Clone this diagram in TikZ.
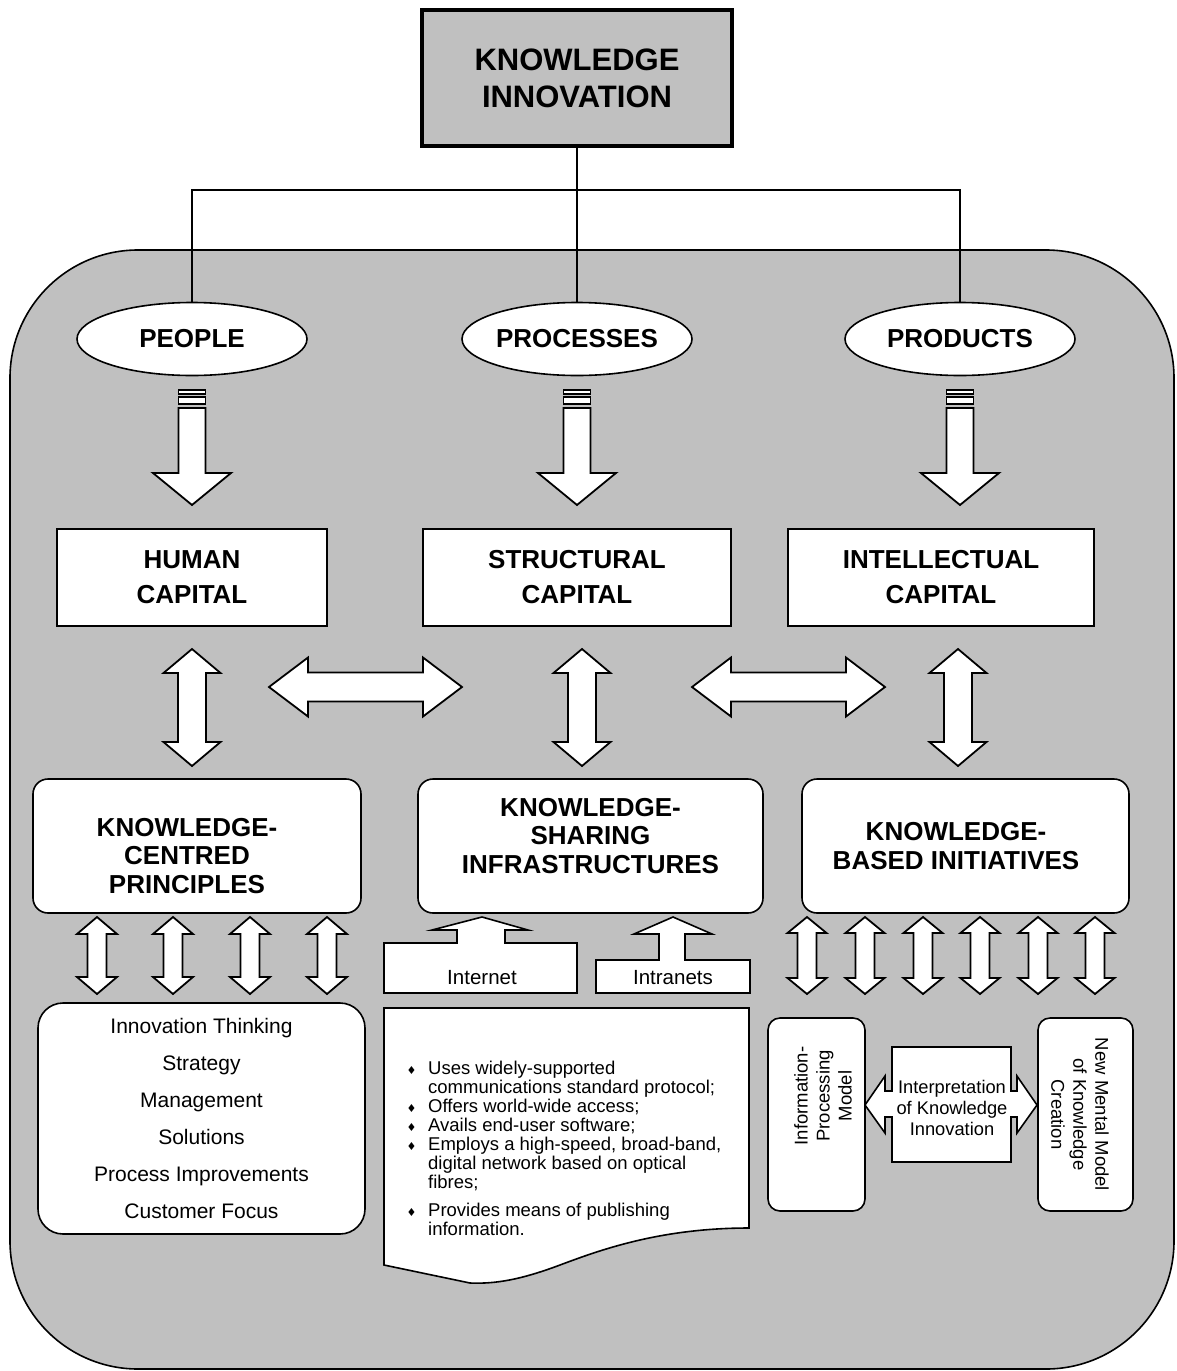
\documentclass[tikz,border=0pt]{standalone}
\usepackage{fontspec}
\setmainfont{Liberation Sans}
\newfontfamily\symfont{DejaVu Sans}
\usetikzlibrary{calc,positioning,shapes.geometric}
\definecolor{framegray}{HTML}{C0C0C0}
\tikzset{
  frame/.style={
    draw,
    fill=framegray,
    line width=1.6pt,
    rounded corners=128pt,
    minimum width=1164pt,
    minimum height=1119pt
  },
  topbox/.style={
    draw,
    fill=framegray,
    line width=3.5pt,
    minimum width=310pt,
    minimum height=136pt,
    align=center,
    font=\fontsize{31}{37}\selectfont\bfseries
  },
  pillar/.style={
    draw,
    ellipse,
    fill=white,
    line width=1.6pt,
    minimum width=230pt,
    minimum height=73pt,
    inner sep=0pt,
    font=\fontsize{26}{30}\selectfont\bfseries
  },
  capbox/.style={
    draw,
    fill=white,
    line width=1.6pt,
    minimum height=97pt,
    align=center,
    font=\fontsize{26}{35}\selectfont\bfseries
  },
  hubbox/.style={
    draw,
    fill=white,
    line width=1.6pt,
    rounded corners=15pt,
    minimum height=134pt
  },
  hubtitle/.style={align=center, inner sep=0pt, font=\fontsize{26}{28.5}\selectfont\bfseries},
  listbox/.style={
    draw,
    fill=white,
    line width=1.6pt,
    rounded corners=25pt,
    minimum width=327pt,
    minimum height=231pt,
    align=center,
    font=\fontsize{21}{37}\selectfont
  },
  modelbox/.style={draw, fill=white, line width=1.6pt, rounded corners=12pt},
  modeltext/.style={align=center, inner sep=0pt, font=\fontsize{18.5}{22}\selectfont},
  source/.style={draw, fill=white, line width=1.6pt},
  sourcetext/.style={inner sep=0pt, font=\fontsize{20.5}{24}\selectfont},
  bullets/.style={align=left, inner sep=0pt, font=\fontsize{18.5}{19}\selectfont},
  blockarrow/.style={draw, fill=white, line width=1.8pt},
  link/.style={line width=1.5pt}
}
% block double arrows: vertical (x, top, bottom, half head, half shaft, head length)
\newcommand{\vtwin}[6]{\draw[blockarrow] (#1,#2) -- (#1+#4,#2+#6) -- (#1+#5,#2+#6) -- (#1+#5,#3-#6) -- (#1+#4,#3-#6) -- (#1,#3) -- (#1-#4,#3-#6) -- (#1-#5,#3-#6) -- (#1-#5,#2+#6) -- (#1-#4,#2+#6) -- cycle;}
% horizontal (y, left, right, half head, half shaft, head length)
\newcommand{\htwin}[6]{\draw[blockarrow] (#2,#1) -- (#2+#6,#1-#4) -- (#2+#6,#1-#5) -- (#3-#6,#1-#5) -- (#3-#6,#1-#4) -- (#3,#1) -- (#3-#6,#1+#4) -- (#3-#6,#1+#5) -- (#2+#6,#1+#5) -- (#2+#6,#1+#4) -- cycle;}
\newcommand{\bul}{\makebox[21.5pt][l]{{\symfont\fontsize{11}{11}\selectfont ♦}}}

\begin{document}
\begin{tikzpicture}[x=1pt, y=-1pt]
  \useasboundingbox (0,0) rectangle (1176,1371);
  \node[frame] (frame) at (592,809.5) {};

  % top of the tree
  \node[topbox] (ki) at (577,78) {KNOWLEDGE\\INNOVATION};
  \node[pillar] (people) at (192,339) {PEOPLE};
  \node[pillar] (processes) at (577,339) {PROCESSES};
  \node[pillar] (products) at (960,339) {PRODUCTS};
  \coordinate (bus) at (577,190);
  \draw[link] (ki.south) -- (processes.north);
  \draw[link] (people.north) |- (bus) -| (products.north);

  \foreach \x in {192,577,960} {
    \draw[blockarrow] (\x-13.5,390) rectangle (\x+13.5,394);
    \draw[blockarrow] (\x-13.5,397) rectangle (\x+13.5,404);
    \draw[blockarrow] (\x-13.5,408) -- (\x+13.5,408) -- (\x+13.5,473) -- (\x+39,473) -- (\x,505) -- (\x-39,473) -- (\x-13.5,473) -- cycle;
  }

  % capitals
  \node[capbox, minimum width=270pt] (human) at (192,577.5) {HUMAN\\CAPITAL};
  \node[capbox, minimum width=308pt] (structural) at (577,577.5) {STRUCTURAL\\CAPITAL};
  \node[capbox, minimum width=306pt] (intellectual) at (941,577.5) {INTELLECTUAL\\CAPITAL};

  \vtwin{192}{649}{766}{28.5}{14}{24}
  \vtwin{582}{649}{766}{28.5}{14}{24}
  \vtwin{958}{649}{766}{28.5}{14}{24}
  \htwin{687}{269}{462}{29.5}{14.5}{39}
  \htwin{687}{692}{885}{29.5}{14.5}{39}

  % knowledge hubs
  \node[hubbox, minimum width=328pt] (kcp) at (197,846) {};
  \node[hubtitle] (kcplabel) at ([xshift=-10pt,yshift=-10pt]kcp.center) {KNOWLEDGE-\\CENTRED\\PRINCIPLES};
  \node[hubbox, minimum width=345pt] (ksi) at (590.5,846) {};
  \node[hubtitle] (ksilabel) at ([yshift=10pt]ksi.center) {KNOWLEDGE-\\SHARING\\INFRASTRUCTURES};
  \node[hubbox, minimum width=327pt] (kbi) at (965.5,846) {};
  \node[hubtitle] (kbilabel) at ([xshift=-9.5pt]kbi.center) {KNOWLEDGE-\\BASED INITIATIVES};

  \foreach \x in {97,173,250,327} {
    \vtwin{\x}{917}{994}{20}{9.5}{17}
  }
  \foreach \x in {807,865,923,980,1038,1095} {
    \vtwin{\x}{917}{994}{19.5}{9.5}{16}
  }

  % principles
  \node[listbox] (practices) at (201.5,1118.5) {Innovation Thinking\\Strategy\\Management\\Solutions\\Process Improvements\\Customer Focus};

  % infrastructures
  \draw[source] (384,943) -- (457,943) -- (457,930) -- (432,930) -- (482,917) -- (528,930) -- (505,930) -- (505,943) -- (577,943) -- (577,993) -- (384,993) -- cycle;
  \node[sourcetext] (internet) at (482,978) {Internet};
  \draw[source] (596,960) -- (659,960) -- (659,934) -- (634,934) -- (673,917) -- (712,934) -- (685,934) -- (685,960) -- (750,960) -- (750,993) -- (596,993) -- cycle;
  \node[sourcetext] (intranets) at (673,978) {Intranets};

  \draw[source] (384,1008) -- (749,1008) -- (749,1228) .. controls (660,1228) and (600,1250) .. (560,1265) .. controls (520,1280) and (495,1284) .. (470,1283) -- (384,1265) -- cycle;
  \node[bullets, anchor=north west] (features) at (406.5,1061) {\bul Uses widely-supported\\
    \hspace*{21.5pt}communications standard protocol;\\
    \bul Offers world-wide access;\\
    \bul Avails end-user software;\\
    \bul Employs a high-speed, broad-band,\\
    \hspace*{21.5pt}digital network based on optical\\
    \hspace*{21.5pt}fibres;\\[9pt]
    \bul Provides means of publishing\\
    \hspace*{21.5pt}information.};

  % initiatives
  \node[modelbox, minimum width=97pt, minimum height=193pt] (ipm) at (816.5,1114.5) {};
  \node[modeltext, rotate=90] (ipmtext) at ([xshift=6.5pt,yshift=18.5pt]ipm.center) {Information-\\Processing\\Model};
  \node[modelbox, minimum width=95pt, minimum height=193pt] (nmm) at (1085.5,1114.5) {};
  \node[modeltext, rotate=-90] (nmmtext) at ([xshift=-5.5pt]nmm.center) {New Mental Model\\of Knowledge\\Creation};
  \draw[source] (892,1047) -- (1011,1047) -- (1011,1091) -- (1017,1091) -- (1017,1076) -- (1037,1105) -- (1017,1133) -- (1017,1117) -- (1011,1117) -- (1011,1162) -- (892,1162) -- (892,1117) -- (885,1117) -- (885,1133) -- (865,1105) -- (885,1076) -- (885,1091) -- (892,1091) -- cycle;
  \node[modeltext, font=\fontsize{18.3}{21}\selectfont] (interp) at (952,1108) {Interpretation\\of Knowledge\\Innovation};
\end{tikzpicture}
\end{document}
